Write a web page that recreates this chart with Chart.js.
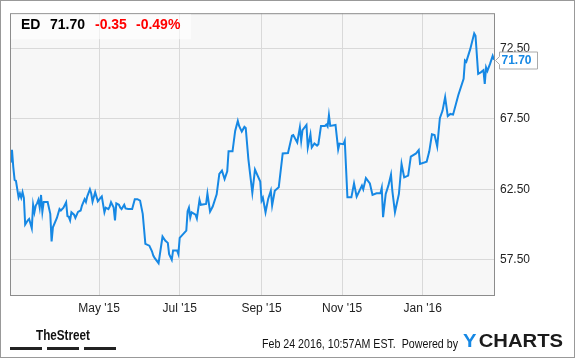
<!DOCTYPE html>
<html>
<head>
<meta charset="utf-8">
<script src="https://cdn.jsdelivr.net/npm/chart.js@4.4.0/dist/chart.umd.min.js"></script>
<style>
html, body { margin: 0; padding: 0; background: #fff; }
</style>
</head>
<body>
<canvas id="edChart" width="575" height="358"></canvas>
<script>
'use strict';

// days counted from 23 Feb 2015
const days = [0, 1, 2, 3, 4, 6, 7, 8, 9, 10, 11, 13, 14, 16, 17, 18, 19, 20, 21, 22, 23, 24, 25, 28, 30, 31, 32, 35, 37, 38,
    40, 42, 43, 44, 45, 46, 48, 49, 51, 53, 54, 56, 57, 58, 60, 61, 62, 64, 66, 68, 69, 71, 72, 74, 75, 76, 78, 79, 80, 82,
    83, 84, 86, 87, 89, 92, 94, 96, 98, 100, 101, 102, 105, 107, 108, 109, 112, 115, 117, 119, 120, 122, 123, 126, 127, 128, 133, 134, 135, 136,
    137, 140, 141, 143, 144, 148, 149, 151, 153, 156, 158, 160, 162, 164, 165, 168, 170, 172, 173, 175, 177, 178, 180, 183, 185, 187, 189, 190, 191, 193,
    195, 197, 198, 200, 203, 206, 210, 213, 214, 217, 219, 220, 221, 224, 225, 227, 228, 230, 232, 233, 235, 238, 239, 240, 241, 242, 246, 248, 249, 252,
    253, 255, 258, 260, 262, 266, 267, 269, 272, 274, 277, 280, 281, 282, 284, 286, 288, 289, 291, 294, 296, 298, 301, 303, 307, 309, 310, 315, 317, 319,
    321, 323, 325, 327, 329, 331, 333, 335, 339, 343, 344, 345, 348, 351, 352, 354, 356, 358, 359, 360, 361, 363, 365, 366];

const prices = [64.4, 65.3, 64.06, 63.17, 63.1, 61.93, 62.2, 61.9, 62.3, 61.9, 60.0, 60.3, 60.4, 59.74, 61.4, 60.87, 61.35, 61.5, 61.75, 61.2, 62.1, 60.9, 61.6, 61.6, 60.76, 58.8, 59.8, 60.47, 61.1, 61.0,
    61.2, 61.58, 60.6, 60.55, 60.3, 60.87, 60.7, 60.47, 60.9, 61.0, 61.35, 61.8, 61.6, 62.0, 62.5, 62.2, 61.63, 62.3, 61.65, 61.9, 62.0, 60.87, 61.2, 61.1, 61.27, 61.58, 61.2, 60.3, 61.5, 61.4,
    61.2, 61.1, 61.4, 61.15, 61.1, 61.1, 61.8, 61.8, 61.7, 60.76, 59.7, 58.63, 58.5, 58.1, 57.8, 57.63, 57.26, 59.15, 58.87, 58.7, 57.9, 57.5, 58.16, 58.16, 57.9, 59.05, 59.57, 60.94, 61.2, 60.5,
    60.87, 60.7, 60.43, 61.75, 61.4, 61.46, 62.2, 60.92, 61.28, 62.15, 63.6, 63.83, 63.23, 63.78, 65.2, 65.2, 66.64, 67.35, 67.0, 66.6, 66.93, 66.85, 64.65, 62.25, 63.9, 63.47, 63.05, 61.7, 61.9, 60.87,
    61.82, 62.4, 61.35, 62.4, 62.64, 65.05, 65.08, 66.3, 66.35, 65.83, 66.9, 65.95, 66.7, 67.07, 65.47, 66.4, 65.47, 65.75, 65.6, 65.7, 67.0, 67.0, 67.1, 66.95, 67.76, 67.0, 67.07, 65.33, 65.75, 65.7,
    65.95, 61.93, 61.93, 62.92, 61.98, 62.76, 62.5, 63.3, 62.92, 62.1, 62.22, 62.22, 62.6, 60.52, 62.17, 62.76, 63.54, 62.4, 60.87, 62.17, 64.3, 63.35, 63.47, 64.82, 65.05, 65.29, 64.3, 64.46, 65.2, 66.4,
    66.35, 65.54, 67.55, 68.07, 69.05, 67.7, 67.85, 67.8, 69.2, 70.35, 71.64, 71.55, 72.45, 73.57, 73.4, 70.7, 70.8, 70.95, 69.98, 71.15, 70.9, 71.4, 71.97, 71.7];

const tickDays = [67, 128, 190, 251, 312];
const tickLabels = ["May '15", "Jul '15", "Sep '15", "Nov '15", "Jan '16"];
const priceTicks = [57.5, 62.5, 67.5, 72.5];

const font = '"Liberation Sans", Arial, sans-serif';
const lineBlue = '#1688e4';

const decorations = {
    id: 'decorations',
    beforeDraw(chart) {
        const { ctx, chartArea: a } = chart;
        ctx.save();
        ctx.fillStyle = '#fff';
        ctx.fillRect(0, 0, chart.width, chart.height);
        ctx.fillStyle = '#f7f7f7';
        ctx.fillRect(a.left, a.top, a.right - a.left, a.bottom - a.top);
        ctx.restore();
    },
    afterDraw(chart) {
        const { ctx, chartArea: a } = chart;
        ctx.save();

        // plot border and outer frame
        ctx.strokeStyle = '#8c8c8c';
        ctx.lineWidth = 1;
        ctx.strokeRect(a.left + 0.5, a.top + 0.5, a.right - a.left, a.bottom - a.top);
        ctx.strokeStyle = '#999';
        ctx.strokeRect(0.5, 0.5, chart.width - 1, chart.height - 1);

        // header
        ctx.fillStyle = 'rgba(255,255,255,0.6)';
        ctx.fillRect(a.left + 1, a.top + 1, 180, 25);
        ctx.font = 'bold 14px ' + font;
        ctx.textBaseline = 'alphabetic';
        ctx.fillStyle = '#000';
        ctx.fillText('ED', 21, 29);
        ctx.fillText('71.70', 50, 29);
        ctx.fillStyle = '#f00';
        ctx.fillText('-0.35', 95, 29);
        ctx.fillText('-0.49%', 136, 29);

        // last value flag
        const last = prices[prices.length - 1];
        const y = Math.round(chart.scales.y.getPixelForValue(last)) + 0.5;
        const bx = a.right + 5.5;
        ctx.beginPath();
        ctx.moveTo(a.right + 1.5, y);
        ctx.lineTo(bx, y - 4);
        ctx.lineTo(bx, y - 8.5);
        ctx.lineTo(bx + 38, y - 8.5);
        ctx.lineTo(bx + 38, y + 8.5);
        ctx.lineTo(bx, y + 8.5);
        ctx.lineTo(bx, y + 4);
        ctx.closePath();
        ctx.fillStyle = '#fff';
        ctx.fill();
        ctx.strokeStyle = '#aaa';
        ctx.stroke();
        ctx.fillStyle = lineBlue;
        ctx.font = 'bold 12px ' + font;
        ctx.textBaseline = 'middle';
        ctx.fillText(last.toFixed(2), bx + 2, y + 0.5);

        // footer: TheStreet
        ctx.fillStyle = '#111';
        ctx.font = 'bold 15px ' + font;
        ctx.textBaseline = 'middle';
        const tsW = ctx.measureText('TheStreet').width;
        ctx.save();
        ctx.translate(36, 336);
        ctx.scale(54 / tsW, 1);
        ctx.fillText('TheStreet', 0, 0);
        ctx.restore();
        ctx.fillStyle = '#222';
        ctx.fillRect(10, 347, 32, 3);
        ctx.fillRect(47, 347, 32, 3);
        ctx.fillRect(84, 347, 32, 3);

        // footer: timestamp and YCHARTS
        ctx.fillStyle = '#111';
        ctx.font = '12px ' + font;
        const stamp = 'Feb 24 2016, 10:57AM EST.  Powered by';
        const sw = ctx.measureText(stamp).width;
        ctx.save();
        ctx.translate(262, 345);
        ctx.scale(196 / sw, 1);
        ctx.fillText(stamp, 0, 0);
        ctx.restore();

        ctx.font = 'bold 19px ' + font;
        const yw = ctx.measureText('Y').width;
        const cw = ctx.measureText('CHARTS').width;
        ctx.save();
        ctx.translate(463, 342);
        ctx.scale(100 / (yw + cw + 2), 1);
        ctx.fillStyle = lineBlue;
        ctx.fillText('Y', 0, 0);
        ctx.fillStyle = '#1b1b1b';
        ctx.fillText('CHARTS', yw + 2, 0);
        ctx.restore();

        ctx.restore();
    }
};

const points = days.map((d, i) => ({ x: d, y: prices[i] }));

const ctx = document.getElementById('edChart').getContext('2d');
const edChart = new Chart(ctx, {
    type: 'line',
    data: {
        datasets: [{
            data: points,
            borderColor: lineBlue,
            borderWidth: 2,
            pointRadius: 0,
            tension: 0,
            fill: false
        }]
    },
    options: {
        responsive: false,
        animation: false,
        layout: { padding: { left: 10, top: 11, right: 0, bottom: 0 } },
        plugins: {
            legend: { display: false },
            tooltip: { enabled: false }
        },
        scales: {
            x: {
                type: 'linear',
                min: -0.5,
                max: 366,
                afterBuildTicks: s => { s.ticks = tickDays.map(v => ({ value: v })); },
                afterFit: s => { s.height = 63; },
                grid: { color: '#d9d9d9', drawTicks: false },
                border: { display: false },
                ticks: {
                    padding: 6,
                    color: '#222',
                    font: { family: font, size: 12 },
                    maxRotation: 0,
                    autoSkip: false,
                    callback: (v, i) => tickLabels[i]
                }
            },
            y: {
                position: 'right',
                min: 55,
                max: 75,
                afterBuildTicks: s => { s.ticks = priceTicks.map(v => ({ value: v })); },
                afterFit: s => { s.width = 81; },
                grid: { color: '#d9d9d9', drawTicks: false },
                border: { display: false },
                ticks: {
                    padding: 6,
                    color: '#222',
                    font: { family: font, size: 12 },
                    callback: v => v.toFixed(2)
                }
            }
        }
    },
    plugins: [decorations]
});
</script>
</body>
</html>
